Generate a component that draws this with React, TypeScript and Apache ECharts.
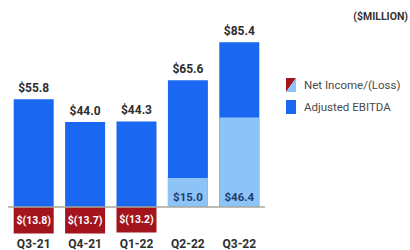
import React, { useEffect, useRef } from "react";
import * as echarts from "echarts";

const categories = ["Q3-21", "Q4-21", "Q1-22", "Q2-22", "Q3-22"];
const adjustedEbitda = [55.8, 44.0, 44.3, 65.6, 85.4];
const netIncome = [-13.8, -13.7, -13.2, 15.0, 46.4];
const legendNames = ["Net Income/(Loss)", "Adjusted EBITDA"];
const unitLabel = "($MILLION)";

const BLUE = "#1a68f2";
const LIGHT = "#8ec3f7";
const RED = "#a3141c";
const TEXT = "#2e2e2e";
const FONT = "Roboto, 'Liberation Sans', sans-serif";

const fmt = (v: number) =>
  v < 0 ? `$(${Math.abs(v).toFixed(1)})` : `$${v.toFixed(1)}`;

export default function App() {
  const ref = useRef<HTMLDivElement>(null);
  useEffect(() => {
    if (!ref.current) return;
    const chart = echarts.init(ref.current, null, { renderer: "svg" });
    chart.setOption({
      animation: false,
      backgroundColor: "#ffffff",
      grid: { left: 8, right: 145, top: 41, bottom: 15 },
      xAxis: {
        type: "category",
        data: categories,
        axisLine: { show: false, onZero: false },
        axisTick: { show: false },
        axisLabel: {
          margin: 4,
          color: TEXT,
          fontSize: 12,
          fontWeight: "bold",
          fontFamily: FONT,
        },
      },
      yAxis: {
        type: "value",
        min: -14,
        max: 86,
        show: false,
        splitLine: { show: false },
      },
      series: [
        {
          name: legendNames[1],
          type: "bar",
          data: adjustedEbitda,
          barWidth: 40,
          itemStyle: { color: BLUE },
          label: {
            show: true,
            position: "top",
            distance: 5,
            formatter: (p: any) => fmt(p.value),
            color: TEXT,
            fontSize: 12,
            fontWeight: "bold",
            fontFamily: FONT,
          },
        },
        {
          name: legendNames[0],
          type: "bar",
          barWidth: 40,
          barGap: "-100%",
          data: netIncome.map((v) => ({
            value: v,
            itemStyle: { color: v < 0 ? RED : LIGHT },
            label: {
              position: v < 0 ? "inside" : "insideBottom",
              color: v < 0 ? "#ffffff" : "#1e3d70",
              distance: 4,
              fontSize: v < 0 ? 10.5 : 11.5,
            },
          })),
          label: {
            show: true,
            formatter: (p: any) => fmt(p.value),
            fontWeight: "bold",
            fontFamily: FONT,
          },
          markLine: {
            silent: true,
            symbol: "none",
            label: { show: false },
            lineStyle: { color: "#aaa59d", width: 1.5, type: "solid" },
            data: [{ yAxis: 0 }],
          },
        },
      ],
      graphic: [
        {
          type: "text",
          right: 2,
          top: 11,
          style: {
            text: unitLabel,
            fill: "#333",
            font: `bold 10.5px ${FONT}`,
          },
        },
        {
          type: "polygon",
          shape: { points: [[286, 78], [296, 78], [286, 92]] },
          style: { fill: RED },
        },
        {
          type: "polygon",
          shape: { points: [[296, 78], [296, 92], [286, 92]] },
          style: { fill: LIGHT },
        },
        {
          type: "rect",
          shape: { x: 286, y: 100, width: 10, height: 14 },
          style: { fill: BLUE },
        },
        {
          type: "text",
          x: 304,
          y: 85,
          style: {
            text: legendNames[0],
            fill: "#4a4a4a",
            font: `11.5px ${FONT}`,
            textVerticalAlign: "middle",
          },
        },
        {
          type: "text",
          x: 304,
          y: 107,
          style: {
            text: legendNames[1],
            fill: "#4a4a4a",
            font: `11.5px ${FONT}`,
            textVerticalAlign: "middle",
          },
        },
      ],
    });
    return () => chart.dispose();
  }, []);
  return (
    <div
      ref={ref}
      style={{ position: "absolute", left: 0, top: 0, width: 410, height: 250 }}
    />
  );
}
